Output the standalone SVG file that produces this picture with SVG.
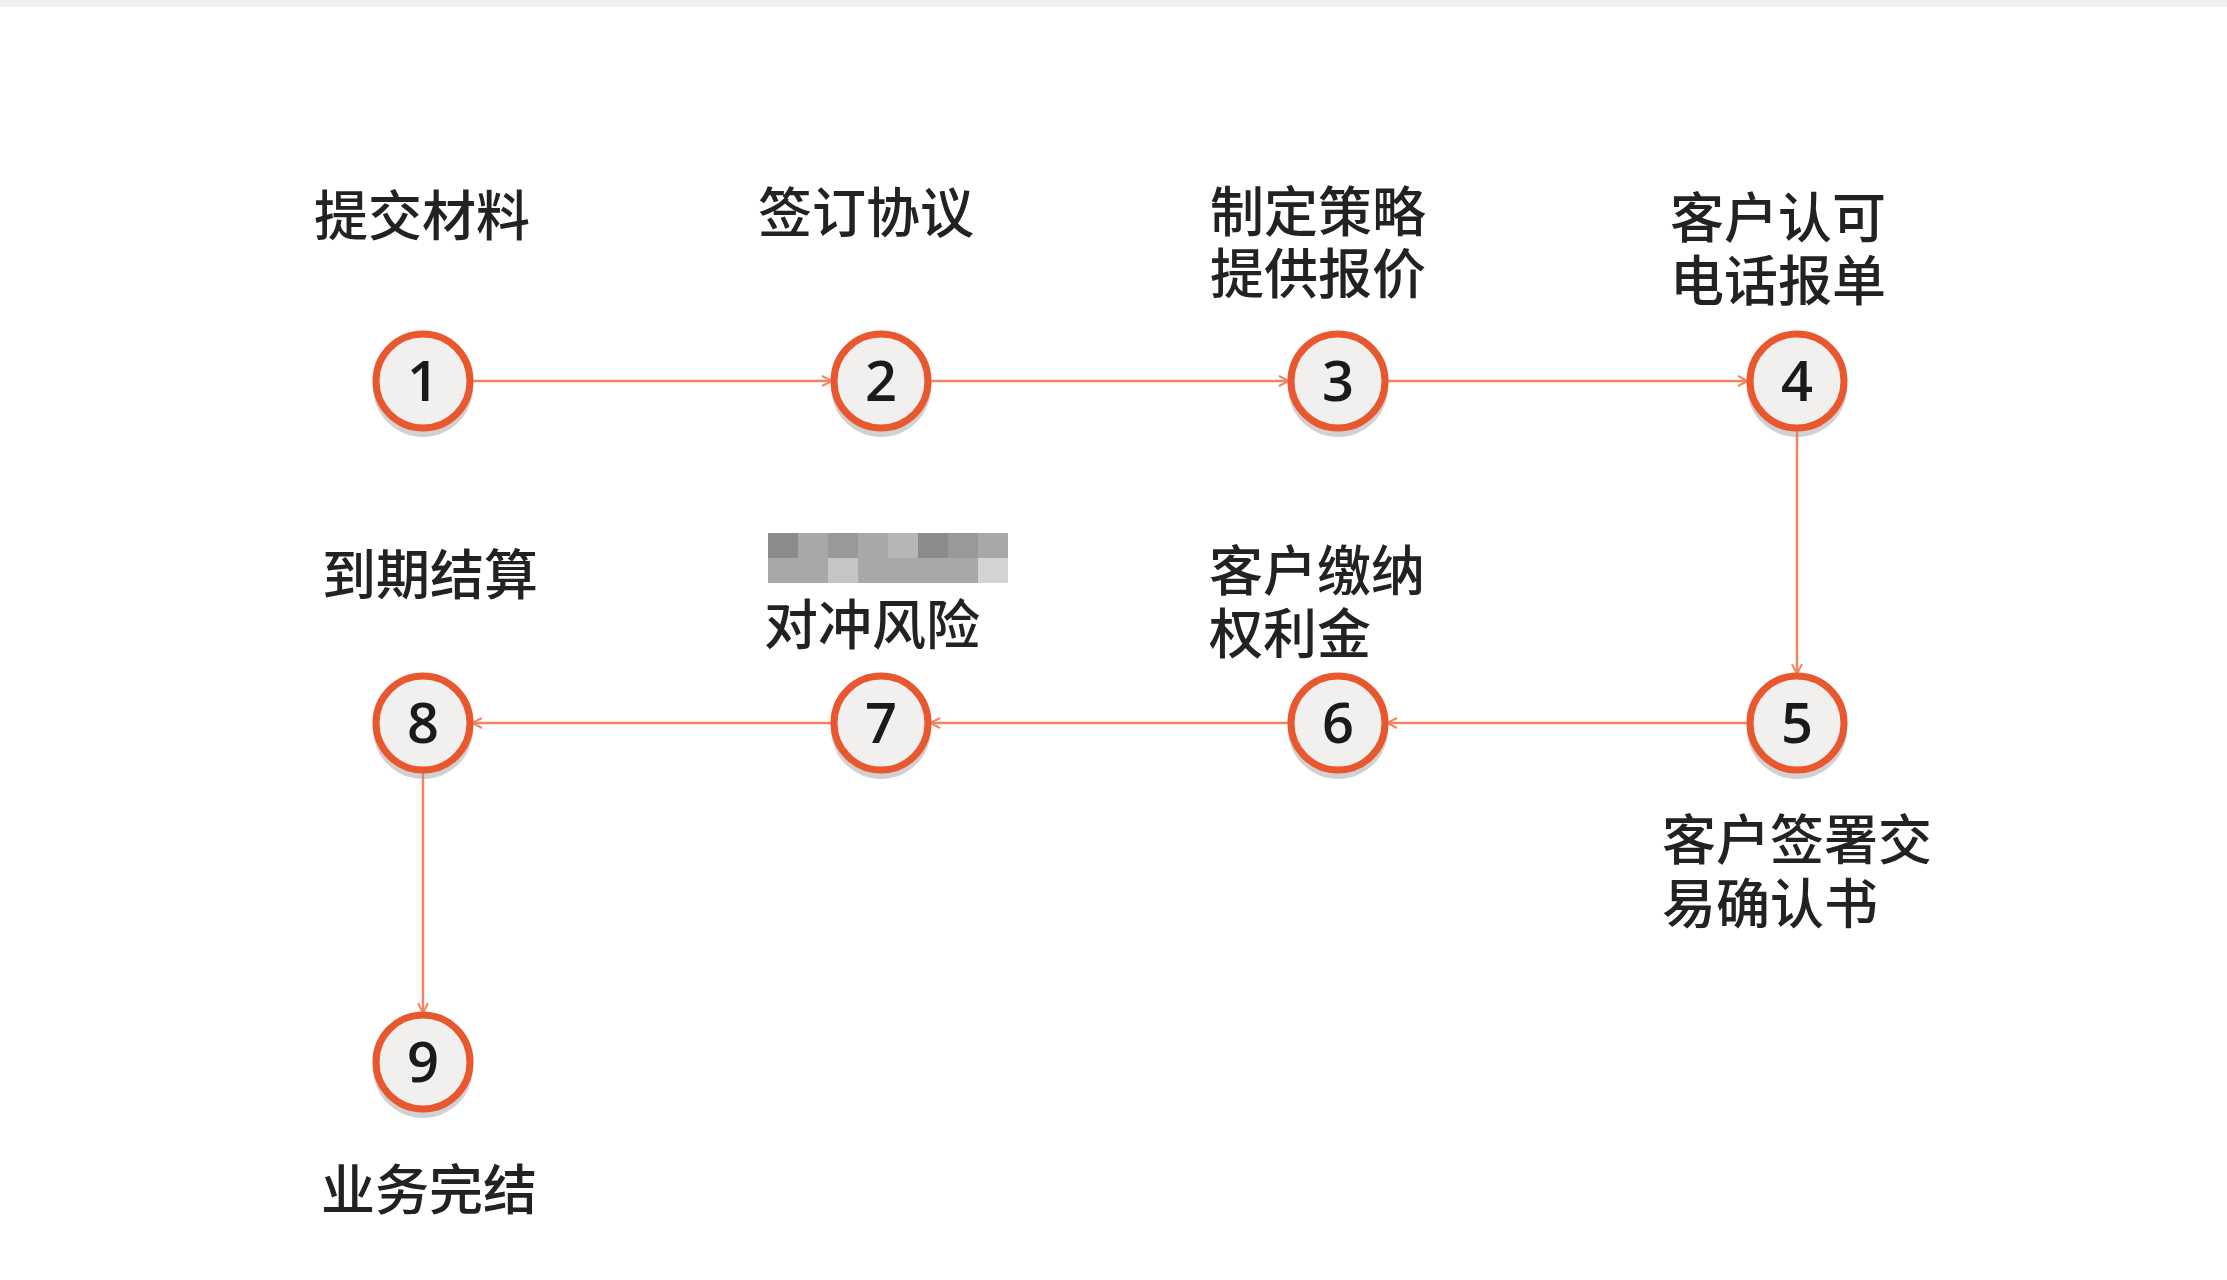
<svg xmlns="http://www.w3.org/2000/svg" width="2227" height="1280" viewBox="0 0 2227 1280">
<style>
.n circle.c{fill:#f1f0ef;stroke:#e8572d;stroke-width:7}
.n circle.s{fill:#9a9a9a;opacity:.45}
.num{font-family:"Open Sans","Liberation Sans",sans-serif;font-size:56px;font-weight:600;fill:#1a1a1a;text-anchor:middle}
.lb{font-family:"Noto Sans CJK SC",sans-serif;font-size:54px;fill:#222;font-weight:500}
.m{text-anchor:middle}
#edges line{stroke:#f08563;stroke-width:2.5;marker-end:url(#ah)}
</style>
<defs>
<marker id="ah" viewBox="0 0 12 12" refX="11" refY="6" markerWidth="12" markerHeight="12" markerUnits="userSpaceOnUse" orient="auto"><path d="M1,1 L11,6 L1,11" fill="none" stroke="#f08563" stroke-width="2"/></marker>
</defs>
<rect width="2227" height="1280" fill="#fff"/>
<rect width="2227" height="7" fill="#f0f0f0"/>
<g id="edges">
<line x1="472" y1="381" x2="832" y2="381"/>
<line x1="930" y1="381" x2="1289" y2="381"/>
<line x1="1387" y1="381" x2="1748" y2="381"/>
<line x1="1797" y1="430" x2="1797" y2="674"/>
<line x1="1748" y1="723" x2="1387" y2="723"/>
<line x1="1289" y1="723" x2="930" y2="723"/>
<line x1="832" y1="723" x2="472" y2="723"/>
<line x1="423" y1="772" x2="423" y2="1013"/>
</g>
<g id="n1" class="n"><circle class="s" cx="423" cy="387" r="50"/><circle class="c" cx="423" cy="381" r="47"/><text class="num" x="423" y="401">1</text><text class="lb m" x="422" y="236">提交材料</text></g>
<g id="n2" class="n"><circle class="s" cx="881" cy="387" r="50"/><circle class="c" cx="881" cy="381" r="47"/><text class="num" x="881" y="401">2</text><text class="lb m" x="866" y="233">签订协议</text></g>
<g id="n3" class="n"><circle class="s" cx="1338" cy="387" r="50"/><circle class="c" cx="1338" cy="381" r="47"/><text class="num" x="1338" y="401">3</text><text class="lb" x="1210" y="232">制定策略</text><text class="lb" x="1210" y="294">提供报价</text></g>
<g id="n4" class="n"><circle class="s" cx="1797" cy="387" r="50"/><circle class="c" cx="1797" cy="381" r="47"/><text class="num" x="1797" y="401">4</text><text class="lb" x="1670" y="238">客户认可</text><text class="lb" x="1670" y="301">电话报单</text></g>
<g id="n5" class="n"><circle class="s" cx="1797" cy="729" r="50"/><circle class="c" cx="1797" cy="723" r="47"/><text class="num" x="1797" y="743">5</text><text class="lb" x="1662" y="860">客户签署交</text><text class="lb" x="1662" y="924">易确认书</text></g>
<g id="n6" class="n"><circle class="s" cx="1338" cy="729" r="50"/><circle class="c" cx="1338" cy="723" r="47"/><text class="num" x="1338" y="743">6</text><text class="lb" x="1209" y="591">客户缴纳</text><text class="lb" x="1209" y="654">权利金</text></g>
<g id="n7" class="n"><circle class="s" cx="881" cy="729" r="50"/><circle class="c" cx="881" cy="723" r="47"/><text class="num" x="881" y="743">7</text>
<g opacity=".85"><rect x="768" y="533" width="240" height="50" fill="#9a9a9a"/><rect x="768" y="533" width="30" height="25" fill="#777"/><rect x="828" y="533" width="30" height="25" fill="#888"/><rect x="888" y="533" width="30" height="25" fill="#aaa"/><rect x="918" y="533" width="30" height="25" fill="#777"/><rect x="948" y="533" width="30" height="25" fill="#888"/><rect x="828" y="558" width="30" height="25" fill="#bbb"/><rect x="978" y="558" width="30" height="25" fill="#ccc"/></g>
<text class="lb" x="764" y="645">对冲风险</text></g>
<g id="n8" class="n"><circle class="s" cx="423" cy="729" r="50"/><circle class="c" cx="423" cy="723" r="47"/><text class="num" x="423" y="743">8</text><text class="lb m" x="430" y="595">到期结算</text></g>
<g id="n9" class="n"><circle class="s" cx="423" cy="1068" r="50"/><circle class="c" cx="423" cy="1062" r="47"/><text class="num" x="423" y="1082">9</text><text class="lb m" x="429" y="1210">业务完结</text></g>
</svg>
